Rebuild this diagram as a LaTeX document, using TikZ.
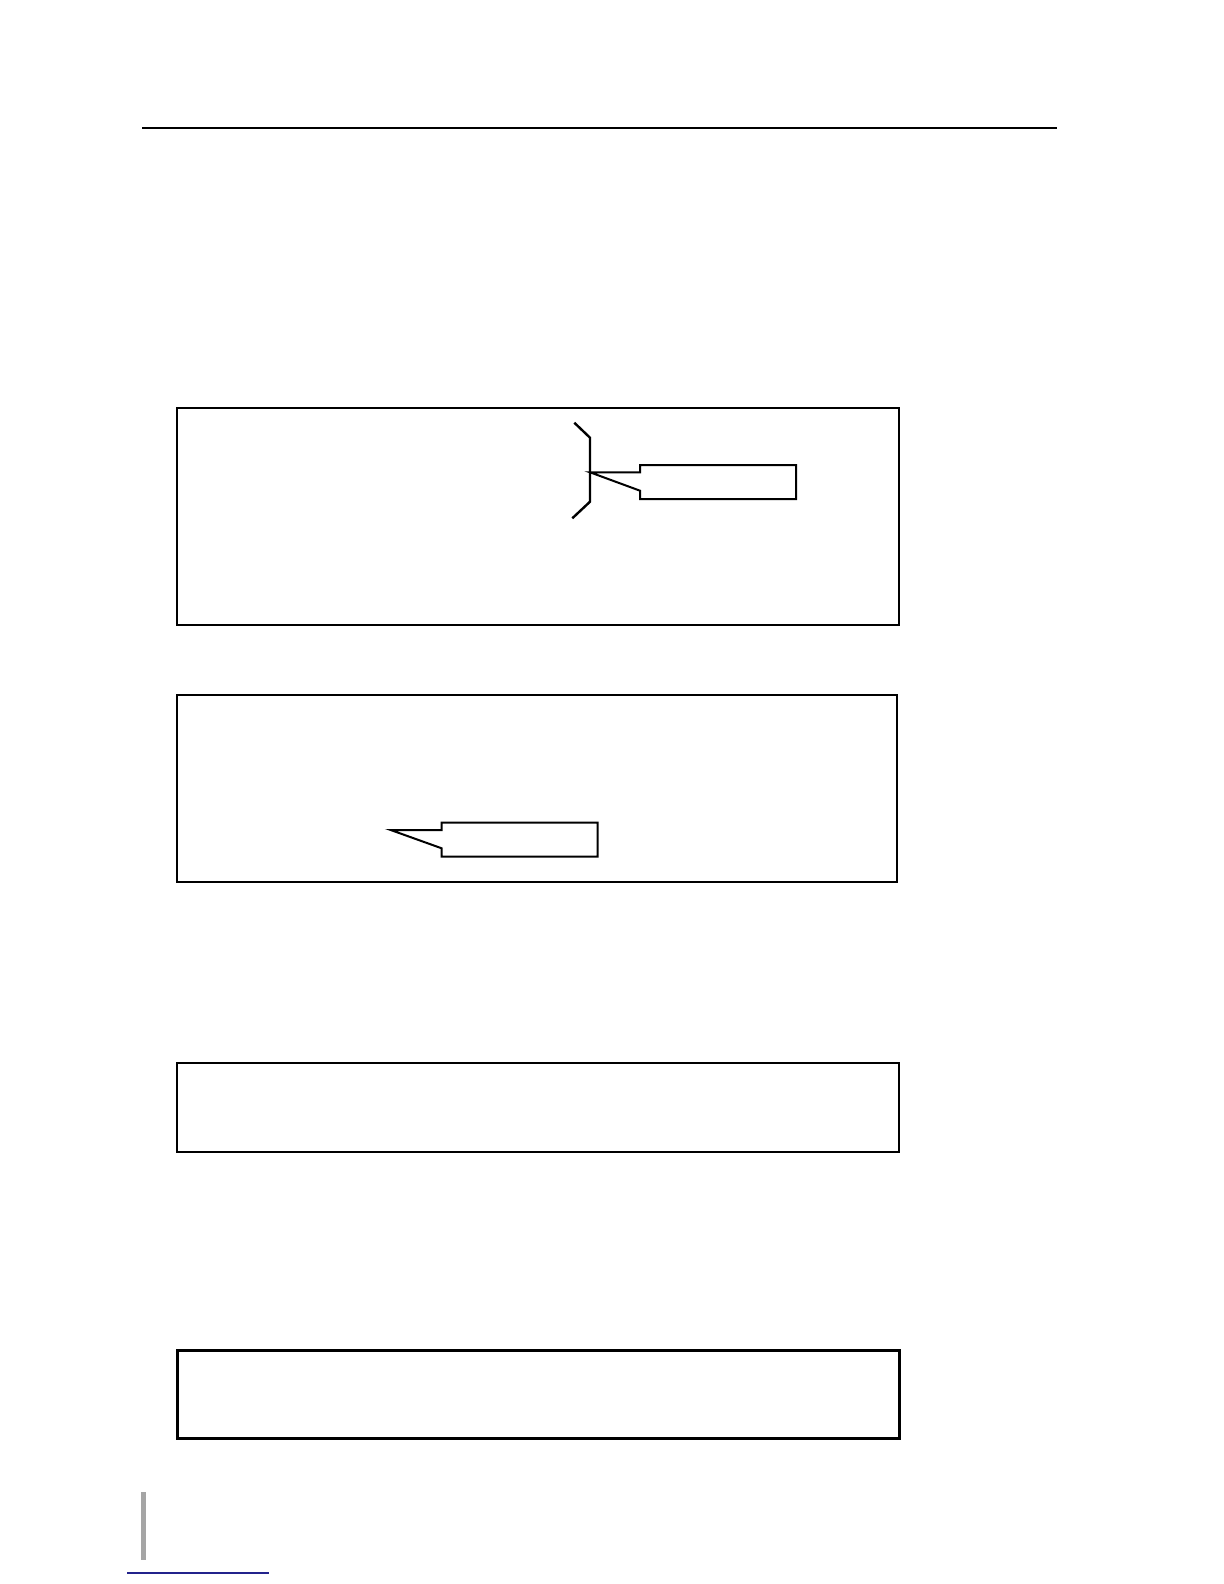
\documentclass[tikz,border=0pt]{standalone}
\definecolor{linkblue}{RGB}{35,35,140}
\definecolor{barcolor}{RGB}{165,165,165}
\tikzset{
  panel/.style={line width=1pt},
  callout/.style={line width=1pt, line join=miter},
}
\begin{document}
\begin{tikzpicture}[x=0.5pt, y=-0.5pt]
		\useasboundingbox (0,0) rectangle (1224,1584);
		\draw[line width=1.1pt] (142,128) -- (1057,128);
		% frames
		\draw[panel] (177,408) rectangle (899,625);
		\draw[panel] (177,695) rectangle (897,882);
		\draw[panel] (177,1063) rectangle (899,1152);
		\draw[line width=1.5pt] (177,1350) rectangle (899,1438);
		% bracket with callout
		\coordinate (tipA) at (590,472.3);
		\draw[line width=1.2pt, line join=miter] (574.3,422.7) -- (590,437.7) -- (590,501.7) -- (572.3,518.3);
		\draw[callout] (tipA) -- (640,472.3) -- (640,465) -- (796,465) -- (796,499) -- (640,499) -- (640,490.7) -- cycle;
		% second callout
		\coordinate (tipB) at (390.7,830);
		\draw[callout] (tipB) -- (441.7,830) -- (441.7,822.7) -- (597.7,822.7) -- (597.7,856.7) -- (441.7,856.7) -- (441.7,848.3) -- cycle;
		% page footer marks
		\fill[barcolor] (141,1492) rectangle (146,1560);
		\draw[linkblue, line width=0.8pt] (127,1573) -- (269,1573);
	\end{tikzpicture}
\end{document}
